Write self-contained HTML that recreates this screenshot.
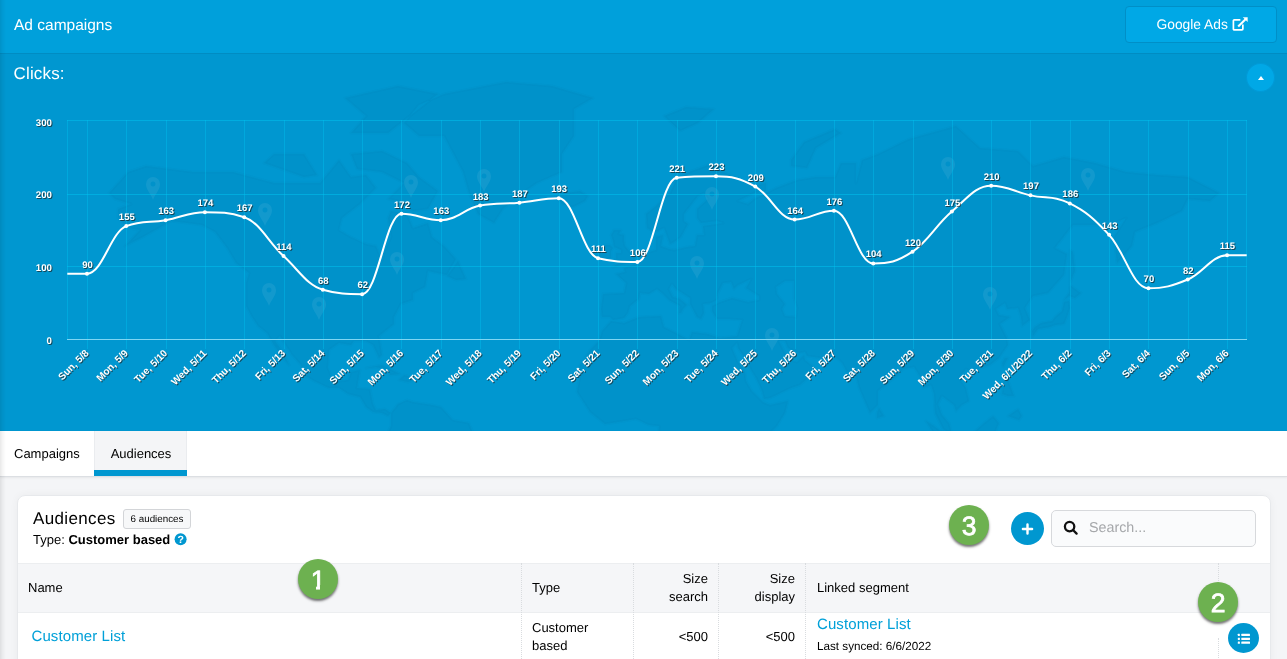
<!DOCTYPE html>
<html lang="en">
<head>
<meta charset="utf-8">
<title>Ad campaigns</title>
<style>
*{box-sizing:border-box;margin:0;padding:0}
html,body{text-rendering:geometricPrecision;width:1287px;height:659px;overflow:hidden;background:#f4f5f7;font-family:"Liberation Sans",Arial,sans-serif;color:#000;-webkit-font-smoothing:antialiased}
.topbar{position:absolute;left:0;top:0;width:1287px;height:54px;background:#00a0db;border-bottom:1px solid #008cc2}
.topbar h1{position:absolute;left:14px;top:16.8px;font-size:15.5px;font-weight:400;color:#fff}
.gbtn{position:absolute;left:1125px;top:6px;width:152px;height:37px;border-radius:4px;background:#00a8e6;border:1px solid #008fc7;color:#fff;font-size:13.8px;line-height:35px;padding-left:30.5px}
.gbtn svg{position:absolute;left:105.8px;top:10px}
.chartwrap{position:absolute;left:0;top:54px;width:1287px;height:377px;background:#0097d0;overflow:hidden}
.chartwrap h2{position:absolute;left:13.6px;top:9.8px;font-size:17px;font-weight:400;color:#fff;letter-spacing:.15px}
.chart{position:absolute;left:0;top:0}
.ax{filter:drop-shadow(1px 1px .6px rgba(30,30,30,.65))}
.ax text{text-rendering:geometricPrecision;font-family:"Liberation Sans",Arial,sans-serif;font-size:9.7px;font-weight:700;fill:#fff}
.ax.big text{font-size:10px}
.ax.val text{font-size:9.5px}
.collapse{position:absolute;left:1246px;top:9px;width:29px;height:29px;border-radius:50%;background:#00a8e6;box-shadow:inset 0 0 0 1px rgba(0,120,175,.28)}
.collapse i{position:absolute;left:12.4px;top:12.7px;width:0;height:0;border-left:3.3px solid transparent;border-right:3.3px solid transparent;border-bottom:4px solid #fff}
.tabs{position:absolute;left:0;top:431px;width:1287px;height:46px;background:#fff;border-bottom:1px solid #dcdfe3;box-shadow:0 1px 2px rgba(0,0,0,.06)}
.tab{position:absolute;top:0;height:45px;font-size:13px;line-height:46px;color:#000}
.tab.t1{left:14px}
.tab.t2{left:94px;width:93px;text-align:center;padding-left:1px;background:#f4f5f7;border-left:1px solid #eaecef;border-right:1px solid #eaecef}
.tab.t2:after{content:"";position:absolute;left:-1px;right:-1px;bottom:0;height:6px;background:#0097d0}
.card,.tabs,.topbar,.chartwrap,.search,.g{will-change:transform}
.card{position:absolute;left:17px;top:495px;width:1254px;height:200px;background:#fff;border-radius:8px;border:1px solid #e7e9ec;box-shadow:0 0 9px rgba(0,0,0,.045)}
.card h3{position:absolute;left:15px;top:13px;font-size:17px;font-weight:400;color:#000;letter-spacing:.35px}
.badge{position:absolute;left:105px;top:13px;width:68px;height:20px;border:1px solid #d3d5d8;border-radius:3px;background:#f7f8f9;font-size:9.8px;line-height:19.4px;text-align:center;color:#000}
.sub{position:absolute;left:15px;top:36px;font-size:13px;color:#000}
.sub b{font-weight:700}
.q{position:absolute;left:156px;top:37px;width:12px;height:12px;border-radius:50%;background:#0097d0;color:#fff;font-size:10.5px;font-weight:700;text-align:center;line-height:14px;text-rendering:geometricPrecision;transform:translate(.6px,.3px)}
.g{position:absolute;width:40px;height:40px;border-radius:50%;background:#6db150;color:#fff;font-weight:400;-webkit-text-stroke:.75px #fff;font-size:26.5px;line-height:42.4px;text-align:center;box-shadow:0 2px 2.5px rgba(0,0,0,.55)}
.g.one:before,.g.one:after{content:"";position:absolute;top:26.3px;height:5.4px;width:5.6px;background:#6db150}
.g.one:before{left:12.8px}
.g.one:after{left:22.3px}
.plus{position:absolute;left:1011px;top:512px;width:33px;height:33px;border-radius:50%;background:#0097d0}
.search{position:absolute;left:1051px;top:510px;width:205px;height:37px;border:1px solid #d7d9dc;border-radius:5px;background:#fafbfc;font-size:14.3px;line-height:35.5px;color:#a6a8ab;padding-left:37px}
.search svg{position:absolute;left:10.5px;top:8.5px}
.thead{position:absolute;left:0;top:67px;width:1252px;height:50px;background:#f5f6f8;border-top:1px solid #eceef0;border-bottom:1px solid #eceef0;font-size:13px}
.thead div,.row div{position:absolute}
.vl{position:absolute;top:67px;width:0;height:140px;border-left:1px dotted #d9dcdf}
.row{position:absolute;left:0;top:117px;width:1252px;height:50px;font-size:13px}
a.lnk{color:#00a0d8;text-decoration:none;font-size:15px;letter-spacing:.1px}
.edge{position:absolute;left:0;top:0;width:6px;height:659px;background:linear-gradient(to right,rgba(0,0,0,.09),rgba(0,0,0,.035) 45%,rgba(0,0,0,0))}
.listbtn{position:absolute;left:1228px;top:623px;width:31px;height:30px;border-radius:50%;background:#0097d0}
</style>
</head>
<body>
<div class="topbar"><h1>Ad campaigns</h1>
  <div class="gbtn">Google Ads
    <svg width="16" height="15" viewBox="0 0 16 15" fill="none" stroke="#fff" stroke-width="1.7"><path d="M10.85 7.6v4.45a.9.9 0 0 1-.9.9H2.3a.9.9 0 0 1-.9-.9V3.8a.9.9 0 0 1 .9-.9h6.05"/><path d="M6.2 9.5L13.8 1.9" stroke-width="2.1"/><path d="M11.3 0.4h4.1v4.1z" fill="#fff" stroke="#fff" stroke-width=".5" stroke-linejoin="round"/></svg>
  </div>
</div>
<div class="chartwrap">
  <svg class="chart" width="1287" height="377" viewBox="0 54 1287 377">
<g class="map"><path fill-rule="evenodd" fill="#00324f" fill-opacity="0.045" stroke="#00324f" stroke-opacity="0.02" stroke-width="3" stroke-linejoin="round" d="M109,193 L128,172 L146,166 L193,172 L233,172 L274,183 L320,183 L339,160 L351,177 L366,175 L376,188 L360,204 L342,218 L339,230 L351,237 L366,244 L376,246 L382,261 L385,250 L391,237 L388,218 L391,211 L407,214 L413,228 L428,223 L432,237 L444,246 L456,259 L447,275 L428,271 L425,287 L413,293 L413,300 L401,304 L394,317 L394,324 L379,336 L382,355 L379,358 L373,345 L366,341 L354,341 L351,345 L339,343 L329,350 L328,368 L332,378 L339,381 L348,380 L351,372 L360,370 L357,388 L370,389 L373,404 L376,410 L385,409 L391,413 L388,416 L382,413 L373,412 L366,407 L360,397 L348,394 L339,388 L329,388 L314,381 L304,375 L301,365 L292,355 L283,341 L280,336 L275,341 L283,352 L289,365 L283,358 L274,345 L267,333 L258,326 L252,317 L246,306 L246,283 L249,273 L236,263 L227,248 L215,232 L202,225 L187,223 L171,221 L159,228 L143,237 L125,246 L140,230 L128,228 L118,218 L118,209 L131,204 L115,199Z M404,123 L419,136 L444,136 L463,172 L469,193 L478,214 L494,223 L503,209 L518,196 L537,183 L562,172 L562,154 L574,136 L574,109 L593,98 L552,86 L506,82 L444,94 L419,105Z M382,151 L407,163 L419,177 L438,191 L428,209 L413,211 L398,201 L388,199 L404,183 L382,172 L357,169 L351,154Z M264,163 L304,177 L317,175 L304,154 L274,154Z M391,413 L398,404 L407,400 L413,402 L432,405 L441,407 L453,420 L469,423 L475,438 L444,454 L382,454 L382,438 L388,432 L391,426Z M708,165 L723,172 L754,186 L766,183 L766,191 L754,193 L738,201 L748,204 L754,199 L776,188 L797,180 L816,177 L835,177 L841,163 L856,163 L856,183 L862,160 L878,154 L909,139 L956,126 L980,148 L1018,151 L1033,166 L1064,157 L1095,163 L1126,172 L1157,175 L1188,177 L1219,193 L1210,201 L1188,199 L1182,211 L1157,223 L1135,232 L1132,246 L1117,263 L1114,237 L1126,218 L1110,225 L1073,225 L1055,248 L1067,254 L1064,275 L1048,293 L1033,296 L1025,308 L1030,320 L1022,326 L1021,317 L1018,308 L1007,309 L1005,303 L996,309 L999,315 L1010,317 L1000,324 L1007,338 L1008,345 L999,358 L990,365 L980,368 L971,372 L966,369 L959,378 L966,388 L969,401 L962,405 L956,411 L954,405 L946,399 L942,396 L938,404 L942,415 L949,423 L952,434 L943,429 L935,413 L934,394 L931,385 L923,388 L921,378 L914,367 L903,369 L898,375 L884,386 L878,391 L878,405 L870,413 L866,404 L859,388 L855,372 L847,372 L842,363 L836,357 L821,358 L807,356 L805,352 L799,353 L788,348 L785,341 L779,341 L785,353 L790,360 L797,362 L804,355 L805,360 L814,367 L808,378 L800,385 L791,388 L770,398 L764,399 L762,391 L756,378 L751,370 L745,358 L738,348 L737,343 L732,348 L738,362 L745,372 L746,381 L752,391 L763,402 L770,405 L788,401 L785,413 L777,426 L760,443 L754,454 L658,454 L658,442 L659,426 L649,425 L636,419 L618,422 L605,424 L590,412 L577,392 L580,375 L577,370 L590,350 L599,341 L602,331 L611,321 L624,323 L639,317 L661,316 L664,327 L676,333 L689,340 L692,332 L708,334 L720,338 L729,337 L737,336 L742,320 L729,319 L717,319 L712,311 L712,306 L720,302 L732,298 L748,302 L759,300 L759,296 L746,288 L751,279 L738,285 L734,289 L731,282 L723,283 L718,293 L717,300 L711,303 L703,304 L704,313 L701,319 L697,317 L690,304 L690,298 L676,289 L672,284 L669,289 L673,297 L680,299 L687,305 L683,309 L681,313 L679,313 L680,306 L669,300 L663,294 L657,289 L649,294 L640,293 L639,299 L630,306 L628,313 L624,318 L613,320 L610,317 L602,317 L601,309 L603,294 L624,293 L626,283 L616,274 L625,272 L624,268 L635,264 L642,259 L646,253 L656,250 L656,237 L663,235 L661,246 L669,249 L674,250 L687,247 L695,246 L697,235 L704,235 L703,226 L717,224 L723,223 L717,221 L701,223 L697,218 L697,209 L708,199 L704,193 L698,196 L684,214 L684,221 L688,224 L681,237 L674,242 L670,244 L664,228 L655,232 L647,228 L646,214 L656,206 L670,193 L676,180 L689,172Z M613,267 L634,262 L635,256 L630,252 L625,246 L624,241 L624,235 L619,234 L621,230 L614,230 L611,235 L613,241 L614,247 L621,250 L621,253 L616,253 L616,259 L614,260 L621,261Z M599,259 L611,258 L611,251 L613,248 L610,245 L605,245 L599,249Z M556,196 L562,204 L573,207 L585,201 L588,196 L580,191 L566,193 L560,191Z M1033,336 L1038,329 L1050,327 L1055,325 L1064,324 L1067,317 L1070,308 L1069,301 L1064,302 L1062,311 L1055,317 L1052,321 L1041,323 L1035,327 L1032,331Z M1064,300 L1069,296 L1075,298 L1081,293 L1078,291 L1070,285 L1069,293Z M1070,283 L1075,271 L1073,252 L1070,250 L1070,267Z M1003,367 L1008,358 L1005,358 L1002,363Z M877,418 L884,416 L879,408 L877,413Z M1002,394 L1004,380 L1008,380 L1014,396 L1008,396Z M1008,416 L1018,409 L1022,416 L1019,420Z M366,368 L382,365 L400,374 L390,375 L388,370 L376,367Z M399,380 L404,375 L418,379 L408,382Z M447,276 L458,261 L466,279 L456,280Z M351,133 L388,133 L438,94 L398,86 L345,98 L366,116Z M664,116 L680,131 L698,123 L714,109 L686,107Z M791,166 L807,168 L816,148 L841,133 L835,129 L804,142 L791,160Z M968,434 L974,448 L990,451 L994,435 L999,423 L993,416 L983,424 L974,432Z M926,421 L934,426 L949,438 L959,448 L959,457 L946,451 L934,434Z M1036,442 L1048,449 L1067,447 L1086,457 L1097,472 L1076,464 L1067,467 L1058,461 L1042,451Z M1000,438 L1005,435 L1018,434 L1011,442 L1010,454 L1002,456Z M776,287 L785,281 L794,281 L794,298 L797,308 L796,317 L785,316 L782,309 L785,304 L777,294Z"/><g fill="#fff" fill-opacity="0.07"><path fill-rule="evenodd" transform="translate(153,188)" d="M0,12 C-2,6 -7,2 -7,-4 A7,7 0 0 1 7,-4 C7,2 2,6 0,12Z M0,-6.5 A2.5,2.5 0 1 0 0.01,-6.5Z"/><path fill-rule="evenodd" transform="translate(265,214)" d="M0,12 C-2,6 -7,2 -7,-4 A7,7 0 0 1 7,-4 C7,2 2,6 0,12Z M0,-6.5 A2.5,2.5 0 1 0 0.01,-6.5Z"/><path fill-rule="evenodd" transform="translate(411,186)" d="M0,12 C-2,6 -7,2 -7,-4 A7,7 0 0 1 7,-4 C7,2 2,6 0,12Z M0,-6.5 A2.5,2.5 0 1 0 0.01,-6.5Z"/><path fill-rule="evenodd" transform="translate(484,180)" d="M0,12 C-2,6 -7,2 -7,-4 A7,7 0 0 1 7,-4 C7,2 2,6 0,12Z M0,-6.5 A2.5,2.5 0 1 0 0.01,-6.5Z"/><path fill-rule="evenodd" transform="translate(269,294)" d="M0,12 C-2,6 -7,2 -7,-4 A7,7 0 0 1 7,-4 C7,2 2,6 0,12Z M0,-6.5 A2.5,2.5 0 1 0 0.01,-6.5Z"/><path fill-rule="evenodd" transform="translate(319,308)" d="M0,12 C-2,6 -7,2 -7,-4 A7,7 0 0 1 7,-4 C7,2 2,6 0,12Z M0,-6.5 A2.5,2.5 0 1 0 0.01,-6.5Z"/><path fill-rule="evenodd" transform="translate(397,263)" d="M0,12 C-2,6 -7,2 -7,-4 A7,7 0 0 1 7,-4 C7,2 2,6 0,12Z M0,-6.5 A2.5,2.5 0 1 0 0.01,-6.5Z"/><path fill-rule="evenodd" transform="translate(712,198)" d="M0,12 C-2,6 -7,2 -7,-4 A7,7 0 0 1 7,-4 C7,2 2,6 0,12Z M0,-6.5 A2.5,2.5 0 1 0 0.01,-6.5Z"/><path fill-rule="evenodd" transform="translate(697,267)" d="M0,12 C-2,6 -7,2 -7,-4 A7,7 0 0 1 7,-4 C7,2 2,6 0,12Z M0,-6.5 A2.5,2.5 0 1 0 0.01,-6.5Z"/><path fill-rule="evenodd" transform="translate(772,339)" d="M0,12 C-2,6 -7,2 -7,-4 A7,7 0 0 1 7,-4 C7,2 2,6 0,12Z M0,-6.5 A2.5,2.5 0 1 0 0.01,-6.5Z"/><path fill-rule="evenodd" transform="translate(948,168)" d="M0,12 C-2,6 -7,2 -7,-4 A7,7 0 0 1 7,-4 C7,2 2,6 0,12Z M0,-6.5 A2.5,2.5 0 1 0 0.01,-6.5Z"/><path fill-rule="evenodd" transform="translate(1088,179)" d="M0,12 C-2,6 -7,2 -7,-4 A7,7 0 0 1 7,-4 C7,2 2,6 0,12Z M0,-6.5 A2.5,2.5 0 1 0 0.01,-6.5Z"/><path fill-rule="evenodd" transform="translate(990,298)" d="M0,12 C-2,6 -7,2 -7,-4 A7,7 0 0 1 7,-4 C7,2 2,6 0,12Z M0,-6.5 A2.5,2.5 0 1 0 0.01,-6.5Z"/></g></g>
<g stroke="#00c8f5" stroke-width="1" stroke-opacity="0.46" shape-rendering="crispEdges">
<line x1="67.3" x2="1246.7" y1="266.5" y2="266.5"/>
<line x1="67.3" x2="1246.7" y1="194.5" y2="194.5"/>
<line x1="67.3" x2="1246.7" y1="120.5" y2="120.5"/>
<line x1="67.5" x2="67.5" y1="120.0" y2="339.5" stroke-opacity=".36"/>
<line x1="87.5" x2="87.5" y1="120.0" y2="349.0" stroke-opacity=".36"/>
<line x1="126.5" x2="126.5" y1="120.0" y2="349.0" stroke-opacity=".36"/>
<line x1="166.5" x2="166.5" y1="120.0" y2="349.0" stroke-opacity=".36"/>
<line x1="205.5" x2="205.5" y1="120.0" y2="349.0" stroke-opacity=".36"/>
<line x1="244.5" x2="244.5" y1="120.0" y2="349.0" stroke-opacity=".36"/>
<line x1="284.5" x2="284.5" y1="120.0" y2="349.0" stroke-opacity=".36"/>
<line x1="323.5" x2="323.5" y1="120.0" y2="349.0" stroke-opacity=".36"/>
<line x1="362.5" x2="362.5" y1="120.0" y2="349.0" stroke-opacity=".36"/>
<line x1="401.5" x2="401.5" y1="120.0" y2="349.0" stroke-opacity=".36"/>
<line x1="441.5" x2="441.5" y1="120.0" y2="349.0" stroke-opacity=".36"/>
<line x1="480.5" x2="480.5" y1="120.0" y2="349.0" stroke-opacity=".36"/>
<line x1="519.5" x2="519.5" y1="120.0" y2="349.0" stroke-opacity=".36"/>
<line x1="559.5" x2="559.5" y1="120.0" y2="349.0" stroke-opacity=".36"/>
<line x1="598.5" x2="598.5" y1="120.0" y2="349.0" stroke-opacity=".36"/>
<line x1="637.5" x2="637.5" y1="120.0" y2="349.0" stroke-opacity=".36"/>
<line x1="677.5" x2="677.5" y1="120.0" y2="349.0" stroke-opacity=".36"/>
<line x1="716.5" x2="716.5" y1="120.0" y2="349.0" stroke-opacity=".36"/>
<line x1="755.5" x2="755.5" y1="120.0" y2="349.0" stroke-opacity=".36"/>
<line x1="795.5" x2="795.5" y1="120.0" y2="349.0" stroke-opacity=".36"/>
<line x1="834.5" x2="834.5" y1="120.0" y2="349.0" stroke-opacity=".36"/>
<line x1="873.5" x2="873.5" y1="120.0" y2="349.0" stroke-opacity=".36"/>
<line x1="913.5" x2="913.5" y1="120.0" y2="349.0" stroke-opacity=".36"/>
<line x1="952.5" x2="952.5" y1="120.0" y2="349.0" stroke-opacity=".36"/>
<line x1="991.5" x2="991.5" y1="120.0" y2="349.0" stroke-opacity=".36"/>
<line x1="1030.5" x2="1030.5" y1="120.0" y2="349.0" stroke-opacity=".36"/>
<line x1="1070.5" x2="1070.5" y1="120.0" y2="349.0" stroke-opacity=".36"/>
<line x1="1109.5" x2="1109.5" y1="120.0" y2="349.0" stroke-opacity=".36"/>
<line x1="1148.5" x2="1148.5" y1="120.0" y2="349.0" stroke-opacity=".36"/>
<line x1="1188.5" x2="1188.5" y1="120.0" y2="349.0" stroke-opacity=".36"/>
<line x1="1227.5" x2="1227.5" y1="120.0" y2="349.0" stroke-opacity=".36"/>
<line x1="1246.5" x2="1246.5" y1="120.0" y2="339.5" stroke-opacity=".36"/>
</g>
<line x1="67.3" x2="1246.7" y1="339.5" y2="339.5" stroke="#7fd6f3" stroke-width="1" shape-rendering="crispEdges"/>
<g class="ax" text-anchor="end">
<text x="52" y="344.0">0</text>
<text x="52" y="271.0">100</text>
<text x="52" y="198.3">200</text>
<text x="52" y="126.0">300</text>
</g>
<path d="M67.30,273.65 C67.30,273.65 79.09,273.65 86.96,273.65 C102.68,273.65 110.54,231.94 126.27,226.09 C142.00,220.24 149.86,223.02 165.58,220.24 C181.31,217.46 189.17,212.19 204.90,212.19 C220.62,212.19 228.48,212.19 244.21,217.31 C259.94,222.43 267.80,241.60 283.52,256.09 C299.25,270.58 307.11,285.36 322.84,289.75 C338.56,294.14 346.42,294.14 362.15,294.14 C377.88,294.14 385.74,213.65 401.46,213.65 C417.19,213.65 425.05,220.24 440.78,220.24 C456.50,220.24 464.36,208.53 480.09,205.60 C495.82,202.68 503.68,204.14 519.40,202.68 C535.13,201.22 542.99,198.29 558.72,198.29 C574.44,198.29 582.30,254.63 598.03,258.28 C613.76,261.94 621.62,261.94 637.34,261.94 C653.07,261.94 660.93,179.27 676.66,177.80 C692.38,176.34 700.24,176.34 715.97,176.34 C731.70,176.34 739.56,177.95 755.28,186.58 C771.01,195.22 778.87,219.51 794.60,219.51 C810.32,219.51 818.18,210.73 833.91,210.73 C849.64,210.73 857.50,263.41 873.22,263.41 C888.95,263.41 896.81,262.09 912.54,251.70 C928.26,241.31 936.12,224.63 951.85,211.46 C967.58,198.29 975.44,185.85 991.16,185.85 C1006.89,185.85 1014.75,191.85 1030.48,195.36 C1046.20,198.87 1054.06,195.51 1069.79,203.41 C1085.52,211.31 1093.38,217.90 1109.10,234.87 C1124.83,251.85 1132.69,288.28 1148.42,288.28 C1164.14,288.28 1172.00,286.09 1187.73,279.50 C1203.46,272.92 1211.32,255.36 1227.04,255.36 C1234.91,255.36 1246.70,255.36 1246.70,255.36" fill="none" stroke="#fff" stroke-width="2" stroke-linejoin="round"/>
<g fill="#fff">
<circle cx="86.96" cy="273.65" r="2"/>
<circle cx="126.27" cy="226.09" r="2"/>
<circle cx="165.58" cy="220.24" r="2"/>
<circle cx="204.90" cy="212.19" r="2"/>
<circle cx="244.21" cy="217.31" r="2"/>
<circle cx="283.52" cy="256.09" r="2"/>
<circle cx="322.84" cy="289.75" r="2"/>
<circle cx="362.15" cy="294.14" r="2"/>
<circle cx="401.46" cy="213.65" r="2"/>
<circle cx="440.78" cy="220.24" r="2"/>
<circle cx="480.09" cy="205.60" r="2"/>
<circle cx="519.40" cy="202.68" r="2"/>
<circle cx="558.72" cy="198.29" r="2"/>
<circle cx="598.03" cy="258.28" r="2"/>
<circle cx="637.34" cy="261.94" r="2"/>
<circle cx="676.66" cy="177.80" r="2"/>
<circle cx="715.97" cy="176.34" r="2"/>
<circle cx="755.28" cy="186.58" r="2"/>
<circle cx="794.60" cy="219.51" r="2"/>
<circle cx="833.91" cy="210.73" r="2"/>
<circle cx="873.22" cy="263.41" r="2"/>
<circle cx="912.54" cy="251.70" r="2"/>
<circle cx="951.85" cy="211.46" r="2"/>
<circle cx="991.16" cy="185.85" r="2"/>
<circle cx="1030.48" cy="195.36" r="2"/>
<circle cx="1069.79" cy="203.41" r="2"/>
<circle cx="1109.10" cy="234.87" r="2"/>
<circle cx="1148.42" cy="288.28" r="2"/>
<circle cx="1187.73" cy="279.50" r="2"/>
<circle cx="1227.04" cy="255.36" r="2"/>
</g>
<g class="ax val" text-anchor="middle">
<text x="87.5" y="267.6">90</text>
<text x="126.8" y="220.1">155</text>
<text x="166.1" y="214.2">163</text>
<text x="205.4" y="206.2">174</text>
<text x="244.7" y="211.3">167</text>
<text x="284.0" y="250.1">114</text>
<text x="323.3" y="283.7">68</text>
<text x="362.7" y="288.1">62</text>
<text x="402.0" y="207.7">172</text>
<text x="441.3" y="214.2">163</text>
<text x="480.6" y="199.6">183</text>
<text x="519.9" y="196.7">187</text>
<text x="559.2" y="192.3">193</text>
<text x="598.5" y="252.3">111</text>
<text x="637.8" y="255.9">106</text>
<text x="677.2" y="171.8">221</text>
<text x="716.5" y="170.3">223</text>
<text x="755.8" y="180.6">209</text>
<text x="795.1" y="213.5">164</text>
<text x="834.4" y="204.7">176</text>
<text x="873.7" y="257.4">104</text>
<text x="913.0" y="245.7">120</text>
<text x="952.4" y="205.5">175</text>
<text x="991.7" y="179.8">210</text>
<text x="1031.0" y="189.4">197</text>
<text x="1070.3" y="197.4">186</text>
<text x="1109.6" y="228.9">143</text>
<text x="1148.9" y="282.3">70</text>
<text x="1188.2" y="273.5">82</text>
<text x="1227.5" y="249.4">115</text>
</g>
<g class="ax big" text-anchor="end">
<text transform="translate(89.4,353.7) rotate(-45)">Sun, 5/8</text>
<text transform="translate(128.7,353.7) rotate(-45)">Mon, 5/9</text>
<text transform="translate(168.0,353.7) rotate(-45)">Tue, 5/10</text>
<text transform="translate(207.3,353.7) rotate(-45)">Wed, 5/11</text>
<text transform="translate(246.6,353.7) rotate(-45)">Thu, 5/12</text>
<text transform="translate(285.9,353.7) rotate(-45)">Fri, 5/13</text>
<text transform="translate(325.2,353.7) rotate(-45)">Sat, 5/14</text>
<text transform="translate(364.6,353.7) rotate(-45)">Sun, 5/15</text>
<text transform="translate(403.9,353.7) rotate(-45)">Mon, 5/16</text>
<text transform="translate(443.2,353.7) rotate(-45)">Tue, 5/17</text>
<text transform="translate(482.5,353.7) rotate(-45)">Wed, 5/18</text>
<text transform="translate(521.8,353.7) rotate(-45)">Thu, 5/19</text>
<text transform="translate(561.1,353.7) rotate(-45)">Fri, 5/20</text>
<text transform="translate(600.4,353.7) rotate(-45)">Sat, 5/21</text>
<text transform="translate(639.7,353.7) rotate(-45)">Sun, 5/22</text>
<text transform="translate(679.1,353.7) rotate(-45)">Mon, 5/23</text>
<text transform="translate(718.4,353.7) rotate(-45)">Tue, 5/24</text>
<text transform="translate(757.7,353.7) rotate(-45)">Wed, 5/25</text>
<text transform="translate(797.0,353.7) rotate(-45)">Thu, 5/26</text>
<text transform="translate(836.3,353.7) rotate(-45)">Fri, 5/27</text>
<text transform="translate(875.6,353.7) rotate(-45)">Sat, 5/28</text>
<text transform="translate(914.9,353.7) rotate(-45)">Sun, 5/29</text>
<text transform="translate(954.3,353.7) rotate(-45)">Mon, 5/30</text>
<text transform="translate(993.6,353.7) rotate(-45)">Tue, 5/31</text>
<text transform="translate(1032.9,353.7) rotate(-45)">Wed, 6/1/2022</text>
<text transform="translate(1072.2,353.7) rotate(-45)">Thu, 6/2</text>
<text transform="translate(1111.5,353.7) rotate(-45)">Fri, 6/3</text>
<text transform="translate(1150.8,353.7) rotate(-45)">Sat, 6/4</text>
<text transform="translate(1190.1,353.7) rotate(-45)">Sun, 6/5</text>
<text transform="translate(1229.4,353.7) rotate(-45)">Mon, 6/6</text>
</g>
</svg>
  <h2>Clicks:</h2>
  <div class="collapse"><i></i></div>
</div>
<div class="tabs"><div class="tab t1">Campaigns</div><div class="tab t2">Audiences</div></div>
<div class="card">
  <h3>Audiences</h3>
  <div class="badge">6 audiences</div>
  <div class="sub">Type: <b>Customer based</b></div>
  <div class="q">?</div>
  <div class="thead">
    <div style="left:10px;top:16px">Name</div>
    <div style="left:514px;top:16px">Type</div>
    <div style="left:641px;width:49px;top:6px;text-align:right;line-height:18px">Size search</div>
    <div style="left:726px;width:51px;top:6px;text-align:right;line-height:18px">Size display</div>
    <div style="left:799px;top:16px">Linked segment</div>
  </div>
  <div class="vl" style="left:503px"></div>
  <div class="vl" style="left:615px"></div>
  <div class="vl" style="left:700px"></div>
  <div class="vl" style="left:787px"></div>
  <div class="vl" style="left:1200px;height:50px"></div>
  <div class="vl" style="left:1200px;top:142px;height:60px"></div>
  <div class="row">
    <div style="left:13.5px;top:15px"><a class="lnk">Customer List</a></div>
    <div style="left:514px;top:6px;line-height:18px;width:80px">Customer based</div>
    <div style="left:641px;width:49px;top:16px;text-align:right">&lt;500</div>
    <div style="left:726px;width:51px;top:16px;text-align:right">&lt;500</div>
    <div style="left:799px;top:3px"><a class="lnk">Customer List</a></div>
    <div style="left:799px;top:27px;font-size:11.7px">Last synced: 6/6/2022</div>
  </div>
</div>
<div class="g one" style="left:298px;top:559px">1</div>
<div class="g" style="left:1198px;top:582px">2</div>
<div class="g" style="left:949px;top:505px">3</div>
<div class="plus"><svg width="33" height="33" viewBox="0 0 33 33"><path d="M11.9 17h9.2M16.5 12.4v9.2" stroke="#fff" stroke-width="2.4" stroke-linecap="round" fill="none"/></svg></div>
<div class="search">Search...
  <svg width="16" height="16" viewBox="0 0 16 16" fill="none" stroke="#111" stroke-width="2.3"><circle cx="6.6" cy="6.6" r="4.7"/><path d="M10 10l3.6 3.6" stroke-linecap="round"/></svg>
</div>
<div class="listbtn">
  <svg width="31" height="31" viewBox="0 .5 31 31" fill="#fff" style="position:absolute;left:0;top:0"><rect x="9.8" y="11.3" width="2.1" height="2.2" rx=".4"/><rect x="13.3" y="11.3" width="8.7" height="2.2" rx=".4"/><rect x="9.8" y="15.2" width="2.1" height="2.2" rx=".4"/><rect x="13.3" y="15.2" width="8.7" height="2.2" rx=".4"/><rect x="9.8" y="19.1" width="2.1" height="2.2" rx=".4"/><rect x="13.3" y="19.1" width="8.7" height="2.2" rx=".4"/></svg>
</div>
<div class="edge"></div>
</body>
</html>
